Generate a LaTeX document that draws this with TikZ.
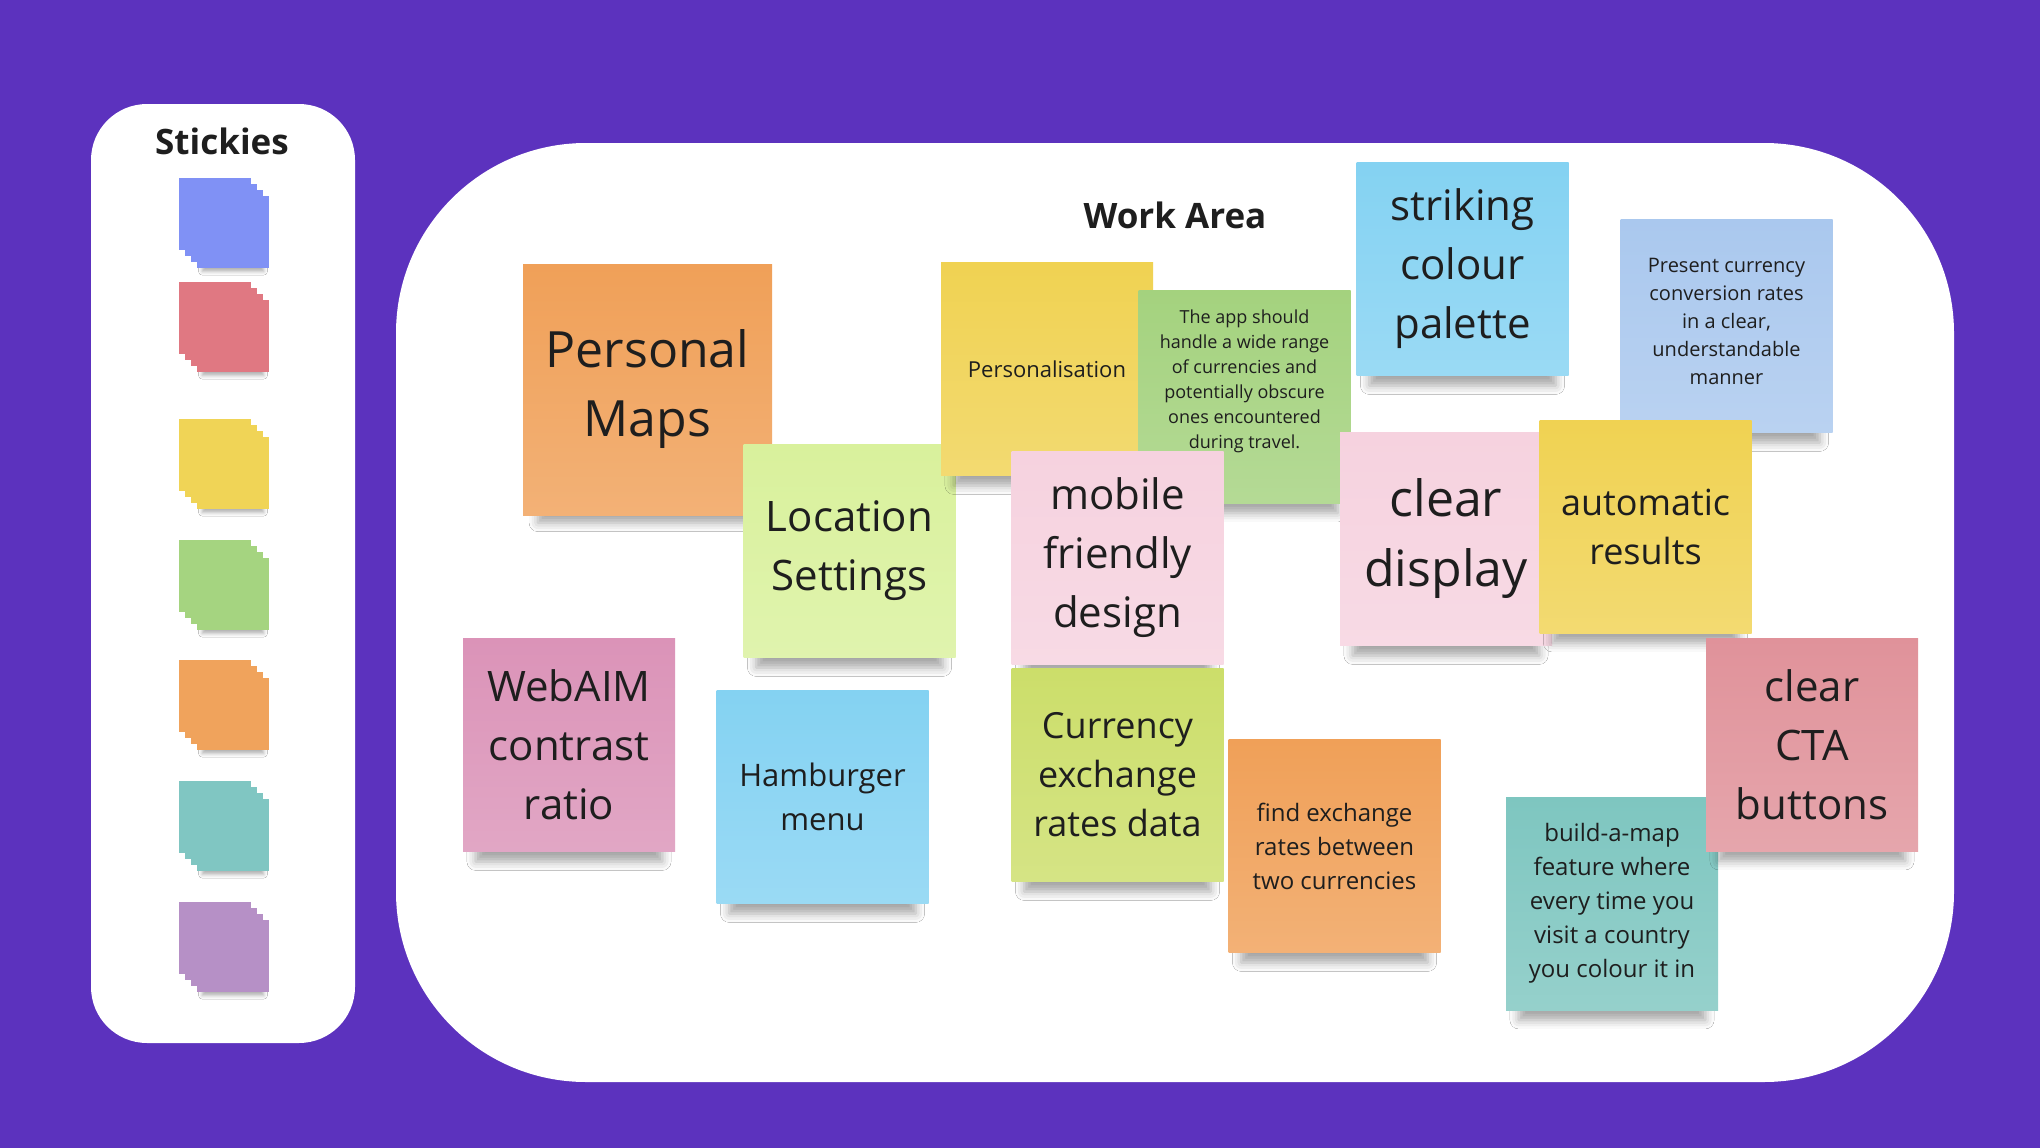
\documentclass[tikz,border=0pt]{standalone}
\usepackage{fontspec}
\setmainfont{Open Sans}
\usepackage{tikz}
\usetikzlibrary{shadows.blur}

\definecolor{bgPurple}{HTML}{5C32BE}
\definecolor{ink}{HTML}{1E1E1E}
\definecolor{padBlue}{HTML}{8091F5}
\definecolor{padRed}{HTML}{E07882}
\definecolor{padYellow}{HTML}{F0D456}
\definecolor{padGreen}{HTML}{A5D480}
\definecolor{padOrange}{HTML}{F0A35C}
\definecolor{padTeal}{HTML}{80C6C2}
\definecolor{padPurple}{HTML}{B690C6}
\definecolor{paperOrange}{HTML}{F0A058}
\definecolor{paperLime}{HTML}{D9F19C}
\definecolor{paperYellow}{HTML}{F0D252}
\definecolor{paperGreen}{HTML}{A4D27E}
\definecolor{paperSky}{HTML}{84D2F2}
\definecolor{paperPale}{HTML}{AAC8EE}
\definecolor{paperPink}{HTML}{F6D2DF}
\definecolor{paperMauve}{HTML}{DB93B8}
\definecolor{paperCurrency}{HTML}{CCDE6A}
\definecolor{paperTeal}{HTML}{7EC6C0}
\definecolor{paperRose}{HTML}{E0929A}

\begin{document}
\begin{tikzpicture}[x=1pt, y=-1pt,
        title_style/.style={font=\fontsize{35}{42}\selectfont\bfseries, text=ink},
        pad_style/.style={rectangle, minimum width=72pt, minimum height=72pt, inner sep=0pt, fill=#1},
        pad_shadow_style/.style={blur shadow={shadow xshift=0pt, shadow yshift=-10pt, shadow scale=0.86, shadow opacity=30, shadow blur radius=4pt}},
        sticky_style/.style={rectangle, minimum width=212pt, minimum height=213pt, inner sep=0pt, align=center, text=ink,
            top color=#1, bottom color=#1!82!white,
            blur shadow={shadow xshift=0pt, shadow yshift=-26pt, shadow scale=0.88, shadow opacity=35, shadow blur radius=10pt}},
        xl_style/.style={font=\fontsize{50}{69}\selectfont},
        l_style/.style={font=\fontsize{42}{59}\selectfont},
        m_style/.style={font=\fontsize{36}{49}\selectfont},
        s_style/.style={font=\fontsize{24}{34}\selectfont},
        xs_style/.style={font=\fontsize{20}{28}\selectfont}]

        \useasboundingbox (0,0) rectangle (2040,1148);
        \fill[bgPurple] (0,0) rectangle (2040,1148);

        % panels
        \fill[white, rounded corners=56pt] (91,104) rectangle (355,1043);
        \fill[white, rounded corners=190pt] (396,143) rectangle (1954,1082);

        \node [title_style] (t1) at (222,141) {Stickies};
        \node [title_style] (t2) at (1175,215) {Work Area};

        % sticky pads
        \foreach \c/\y [count=\i] in {padBlue/178, padRed/282, padYellow/419, padGreen/540, padOrange/660, padTeal/781, padPurple/902} {
            \node [pad_style=\c, pad_shadow_style] at (233,\y+54) {};
            \node [pad_style=\c] at (227,\y+48) {};
            \node [pad_style=\c] at (221,\y+42) {};
            \node [pad_style=\c] (p\i) at (215,\y+36) {};
        }

        % work area stickies
        \node [sticky_style=paperOrange, xl_style, minimum width=249pt, minimum height=251pt] (s1) at (647.5,389.5) {Personal\\Maps};

        \node [sticky_style=paperLime, l_style] (s2) at (849.5,551) {Location\\Settings};

        \node [sticky_style=paperYellow, font=\fontsize{22}{30}\selectfont] (s3) at (1047,369) {Personalisation};

        \node [sticky_style=paperGreen] (s4) at (1244.5,396.5) {};
        \node [align=center, text=ink, font=\fontsize{18}{25}\selectfont] (s4t) at ([yshift=15pt]s4.center) {The app should\\handle a wide range\\of currencies and\\potentially obscure\\ones encountered\\during travel.};

        \node [sticky_style=paperPink, l_style] (s5) at (1117.5,557.5) {mobile\\friendly\\design};

        \node [sticky_style=paperSky, l_style] (s6) at (1462.5,269) {striking\\colour\\palette};

        \node [sticky_style=paperPale] (s7) at (1726.5,326) {};
        \node [align=center, text=ink, xs_style] (s7t) at ([yshift=5pt]s7.center) {Present currency\\conversion rates\\in a clear,\\understandable\\manner};

        \node [sticky_style=paperPink, font=\fontsize{50}{70}\selectfont] (s8) at (1446,539) {clear\\display};

        \node [sticky_style=paperYellow, m_style] (s9) at (1645.5,526.5) {automatic\\results};

        \node [sticky_style=paperMauve, l_style] (s10) at (569,745) {WebAIM\\contrast\\ratio};

        \node [sticky_style=paperSky, font=\fontsize{31}{44}\selectfont] (s11) at (822.5,797) {Hamburger\\menu};

        \node [sticky_style=paperCurrency, m_style] (s12) at (1117.5,775) {Currency\\exchange\\rates data};

        \node [sticky_style=paperOrange, s_style] (s13) at (1334.5,846) {find exchange\\rates between\\two currencies};

        \node [sticky_style=paperTeal, s_style] (s14) at (1612,903.5) {build-a-map\\feature where\\every time you\\visit a country\\you colour it in};

        \node [sticky_style=paperRose, l_style] (s15) at (1812,744.5) {clear\\CTA\\buttons};

\end{tikzpicture}
\end{document}
